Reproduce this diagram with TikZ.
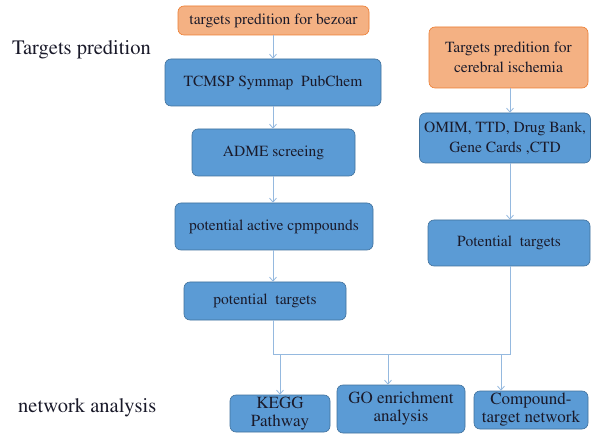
\documentclass[tikz,border=0pt]{standalone}
\usepackage[T1]{fontenc}
\usepackage{mathptmx}
\usetikzlibrary{arrows.meta}
\definecolor{orfill}{HTML}{F4B183}
\definecolor{ordraw}{HTML}{ED7D31}
\definecolor{blfill}{HTML}{5B9BD5}
\definecolor{bldraw}{HTML}{41719C}
\definecolor{arcol}{HTML}{95B9DF}
\definecolor{txcol}{HTML}{1A1A2A}
\tikzset{
  boxbase/.style={rounded corners=6pt, inner sep=0pt, align=center, text=txcol,
    font=\rmfamily\fontsize{15.5}{20}\selectfont, line width=0.6pt},
  orbox/.style={boxbase, fill=orfill, draw=ordraw},
  blbox/.style={boxbase, fill=blfill, draw=bldraw},
  smallbox/.style={blbox, font=\rmfamily\fontsize{17}{18}\selectfont},
  arr/.style={draw=arcol, line width=0.8pt, -{Straight Barb[length=4pt,width=7pt]}},
  ln/.style={draw=arcol, line width=0.8pt},
  sidelabel/.style={anchor=base west, inner sep=0pt, text=txcol, font=\rmfamily\fontsize{20.5}{24}\selectfont}
}
\begin{document}
\begin{tikzpicture}[x=1pt,y=-1pt]
\useasboundingbox (0,0) rectangle (591,435);
\fill[white] (0,0) rectangle (591,435);
% side labels
\node[sidelabel] (lab1) at (12,55) {Targets predition};
\node[sidelabel] (lab2) at (18,412) {network analysis};
% left column
\node[orbox, minimum width=191pt, minimum height=29pt] (o1) at (273.5,20.5) {targets predition for bezoar};
\node[blbox, minimum width=216pt, minimum height=47pt] (b1) at (273,82.5) {TCMSP Symmap\ \ PubChem};
\node[blbox, minimum width=163pt, minimum height=47pt] (b2) at (273.5,152.5) {ADME screeing};
\node[blbox, minimum width=198pt, minimum height=47pt] (b3) at (274,226.5) {potential active cpmpounds};
\node[blbox, minimum width=162pt, minimum height=38pt] (b4) at (265,301) {potential\ \ targets};
% right column
\node[orbox, minimum width=159pt, minimum height=61pt] (o2) at (508.5,57.5) {Targets predition for\\cerebral ischemia};
\node[blbox, minimum width=171pt, minimum height=50pt] (r1) at (505,138) {OMIM, TTD, Drug Bank,\\Gene Cards ,CTD};
\node[blbox, minimum width=162pt, minimum height=46pt] (r2) at (509,243) {Potential\ \ targets};
% bottom row
\node[smallbox, minimum width=100pt, minimum height=37pt] (kegg) at (280,413.5) {KEGG\\Pathway};
\node[smallbox, minimum width=128pt, minimum height=48pt] (go) at (401,409) {GO enrichment\\analysis};
\node[smallbox, minimum width=114pt, minimum height=38pt] (cmp) at (531,410) {Compound-\\target network};
% coordinates
\coordinate (cx) at (273,0);
\coordinate (rx) at (510,0);
\coordinate (jl) at (273,354);
\coordinate (jr) at (510,354);
\coordinate (a1) at (280,354);
\coordinate (a2) at (388,354);
\coordinate (a3) at (501,354);
% left arrows
\draw[arr] (o1.south -| cx) -- (b1.north -| cx);
\draw[arr] (b1.south -| cx) -- (b2.north -| cx);
\draw[arr] (b2.south -| cx) -- (b3.north -| cx);
\draw[arr] (b3.south -| cx) -- (b4.north -| cx);
% right arrows
\draw[arr] (o2.south -| rx) -- (r1.north -| rx);
\draw[arr] (r1.south -| rx) -- (r2.north -| rx);
% joining lines
\draw[ln] (b4.south -| cx) -- (jl) -- (jr) -- (r2.south -| rx);
% bottom arrows
\draw[arr] (a1) -- (a1 |- kegg.north);
\draw[arr] (a2) -- (a2 |- go.north);
\draw[arr] (a3) -- (a3 |- cmp.north);
\end{tikzpicture}
\end{document}
